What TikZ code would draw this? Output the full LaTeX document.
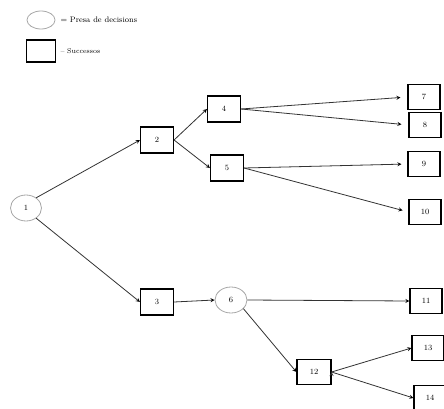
\documentclass[tikz,border=0pt]{standalone}
\usepackage{tikz}
\usetikzlibrary{arrows,shapes.geometric}

\tikzset{
	dec/.style={ellipse,draw=black!35,thick,minimum width=31pt,minimum height=26pt,inner sep=0pt,font=\footnotesize},
	succ/.style={rectangle,draw=black,line width=1.1pt,minimum width=32pt,minimum height=25pt,inner sep=0pt,font=\footnotesize},
	link/.style={->,>=stealth,draw=black!80,line width=0.8pt}
}

\begin{document}
\begin{tikzpicture}[x=1pt,y=-1pt]
		\useasboundingbox (0,0) rectangle (444,409);
		% legend
		\node[dec,minimum width=28pt,minimum height=18pt] (Ldec) at (41,20) {};
		\node[anchor=west,font=\footnotesize] (Ltxt) at (57,20) {= Presa de decisions};
		\node[succ,minimum width=29pt,minimum height=22pt] (Lsucc) at (41,51) {};
		\node[anchor=west,font=\scriptsize] (Stxt) at (57,51) {-- Successos};
		%
		\node[dec] (N1) at (26,208) {1};
		\node[succ,minimum width=33pt,minimum height=26pt] (N2) at (157,140) {2};
		\node[succ,minimum width=33pt,minimum height=26pt] (N3) at (157,302) {3};
		\node[succ,minimum width=33pt,minimum height=26pt] (N4) at (224,109) {4};
		\node[succ,minimum width=33pt,minimum height=26pt] (N5) at (227,168) {5};
		\node[dec,minimum width=32pt] (N6) at (231,300) {6};
		\node[succ] (N7) at (424,97) {7};
		\node[succ] (N8) at (425,125) {8};
		\node[succ] (N9) at (424,164) {9};
		\node[succ] (N10) at (425,212) {10};
		\node[succ] (N11) at (426,301) {11};
		\node[succ,minimum width=34pt] (N12) at (314,372) {12};
		\node[succ] (N13) at (428,348) {13};
		\node[succ] (N14) at (430,398) {14};
		%
		\path[link]
		(N1.45) edge (N2.west)
		(N1.-45) edge (N3.west)
		(N2.east) edge (N4.west)
		(N2.east) edge (N5.west)
		(N4.east) edge[shorten >=7pt] (N7.west)
		(N4.east) edge[shorten >=7pt] (N8.west)
		(N5.east) edge[shorten >=6pt] (N9.west)
		(N5.east) edge[shorten >=6pt] (N10.west)
		(N3.east) edge (N6.west)
		(N6.east) edge (N11.west)
		(N6.-35) edge (N12.west)
		(N12.east) edge (N13.west)
		(N12.east) edge (N14.west);
\end{tikzpicture}
\end{document}
